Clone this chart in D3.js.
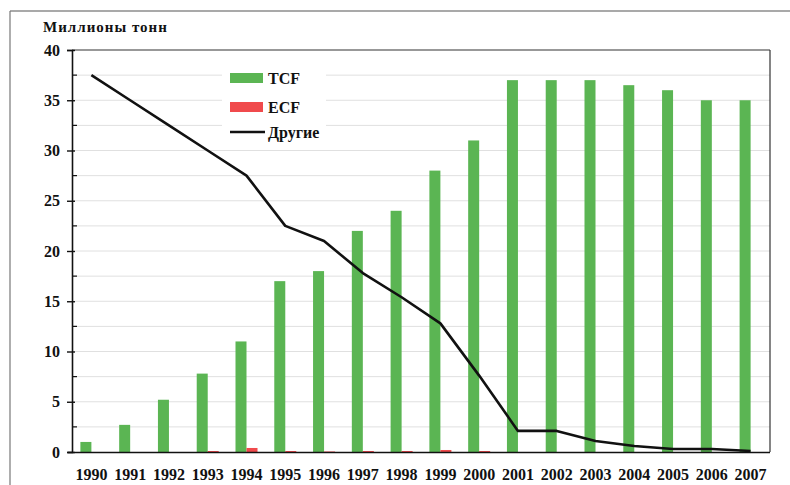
<!DOCTYPE html>
<html>
<head>
<meta charset="utf-8">
<script src="https://cdn.jsdelivr.net/npm/d3@7"></script>
<style>
  html, body { margin: 0; padding: 0; background: #fff; }
  svg { display: block; }
  svg text { font-family: 'Liberation Serif', 'DejaVu Serif', serif; font-weight: bold; fill: #111; }
</style>
</head>
<body>
<svg id="chart" width="790" height="485"></svg>
<script>
// Pulp bleaching output by technology, million tonnes
const years = ["1990","1991","1992","1993","1994","1995","1996","1997","1998",
               "1999","2000","2001","2002","2003","2004","2005","2006","2007"];
const tcf = [1, 2.7, 5.2, 7.8, 11, 17, 18, 22, 24, 28, 31, 37, 37, 37, 36.5, 36, 35, 35];
const ecf = [0, 0, 0, 0.1, 0.4, 0.1, 0.05, 0.1, 0.1, 0.2, 0.1, 0, 0, 0, 0, 0, 0, 0];
const other = [37.5, 35, 32.5, 30, 27.5, 22.5, 21, 17.8, 15.4, 12.8, 7.6, 2.1, 2.1, 1.1, 0.6, 0.3, 0.3, 0.1];
const yTicks = [0, 5, 10, 15, 20, 25, 30, 35, 40];
const seriesNames = ["TCF", "ECF", "Другие"];
const unitLabel = "Миллионы тонн";

const serif = "'Liberation Serif', 'DejaVu Serif', serif";
const svg = d3.select("#chart");
const plotLeft = 72, plotRight = 770, plotTop = 50, plotBottom = 452;

// outer frame
svg.append("line").attr("x1", 10).attr("x2", 790).attr("y1", 11).attr("y2", 11)
  .attr("stroke", "#555").attr("stroke-width", 1.2);
svg.append("line").attr("x1", 10).attr("x2", 10).attr("y1", 11).attr("y2", 485)
  .attr("stroke", "#777").attr("stroke-width", 1.2);

const x = d3.scaleBand().domain(years).range([plotLeft, plotRight]).paddingInner(0).paddingOuter(0);
const y = d3.scaleLinear().domain([0, 40]).range([plotBottom, plotTop]);
const barW = 11;

// gridlines every 2.5
const gridVals = d3.range(2.5, 40, 2.5);
svg.append("g").selectAll("line").data(gridVals).join("line")
  .attr("x1", plotLeft).attr("x2", plotRight)
  .attr("y1", d => y(d)).attr("y2", d => y(d))
  .attr("stroke", "#e0e0e0").attr("stroke-width", 1);

// plot area border (top and right)
svg.append("line").attr("x1", plotLeft).attr("x2", plotRight).attr("y1", plotTop).attr("y2", plotTop)
  .attr("stroke", "#333").attr("stroke-width", 1.2);
svg.append("line").attr("x1", plotRight).attr("x2", plotRight).attr("y1", plotTop).attr("y2", plotBottom)
  .attr("stroke", "#333").attr("stroke-width", 1.2);

// bars: TCF then ECF side by side in each year
const groupStart = d => x(d) + x.bandwidth() / 2 - barW;
svg.append("g").selectAll("rect").data(years).join("rect")
  .attr("x", d => groupStart(d))
  .attr("width", barW)
  .attr("y", (d, i) => y(tcf[i]))
  .attr("height", (d, i) => y(0) - y(tcf[i]))
  .attr("fill", "#5bb553");
svg.append("g").selectAll("rect").data(years).join("rect")
  .attr("x", d => groupStart(d) + barW)
  .attr("width", barW)
  .attr("y", (d, i) => y(ecf[i]))
  .attr("height", (d, i) => y(0) - y(ecf[i]))
  .attr("fill", "#f04a4c");

// line series
const line = d3.line()
  .x((d, i) => x(years[i]) + x.bandwidth() / 2)
  .y(d => y(d));
svg.append("path").datum(other)
  .attr("d", line)
  .attr("fill", "none").attr("stroke", "#111").attr("stroke-width", 2.6)
  .attr("stroke-linejoin", "round");

// y axis
const yAxis = d3.axisLeft(y).tickValues(yTicks).tickSize(5).tickPadding(7);
const gy = svg.append("g").attr("transform", `translate(${plotLeft},0)`).call(yAxis)
  .attr("font-family", serif).attr("font-size", 16).attr("font-weight", "bold");
gy.select(".domain").attr("stroke", "#111").attr("stroke-width", 1.6);
gy.selectAll(".tick line").attr("stroke", "#111").attr("stroke-width", 1.4)
  .attr("x1", 3);
gy.selectAll(".tick text").attr("fill", "#111");
// minor ticks inside
svg.append("g").selectAll("line").data(d3.range(2.5, 40, 5)).join("line")
  .attr("x1", plotLeft).attr("x2", plotLeft + 5)
  .attr("y1", d => y(d)).attr("y2", d => y(d))
  .attr("stroke", "#111").attr("stroke-width", 1.2);

// x axis
const xAxis = d3.axisBottom(x).tickSize(0).tickPadding(17);
const gx = svg.append("g").attr("transform", `translate(0,${plotBottom})`).call(xAxis)
  .attr("font-family", serif).attr("font-size", 16).attr("font-weight", "bold");
gx.select(".domain").attr("stroke", "#111").attr("stroke-width", 1.6)
  .attr("d", `M${plotLeft - 4},0.5H${plotRight}`);
gx.selectAll(".tick text").attr("fill", "#111");

// unit label
svg.append("text").attr("x", 43).attr("y", 32)
  .attr("font-family", serif).attr("font-size", 15).attr("font-weight", "bold")
  .style("letter-spacing", "1px").text(unitLabel);

// legend
const lg = svg.append("g");
lg.append("rect").attr("x", 222).attr("y", 62).attr("width", 104).attr("height", 86).attr("fill", "#fff");
const swY = [78, 107, 132];
lg.append("rect").attr("x", 230).attr("y", swY[0] - 5).attr("width", 33).attr("height", 10).attr("fill", "#5bb553");
lg.append("rect").attr("x", 230).attr("y", swY[1] - 5).attr("width", 33).attr("height", 10).attr("fill", "#f04a4c");
lg.append("line").attr("x1", 230).attr("x2", 265).attr("y1", swY[2]).attr("y2", swY[2])
  .attr("stroke", "#111").attr("stroke-width", 2.6);
lg.selectAll("text").data(seriesNames).join("text")
  .attr("x", 268).attr("y", (d, i) => swY[i] + 6)
  .attr("font-family", serif).attr("font-size", 16).attr("font-weight", "bold")
  .text(d => d);
</script>
</body>
</html>
